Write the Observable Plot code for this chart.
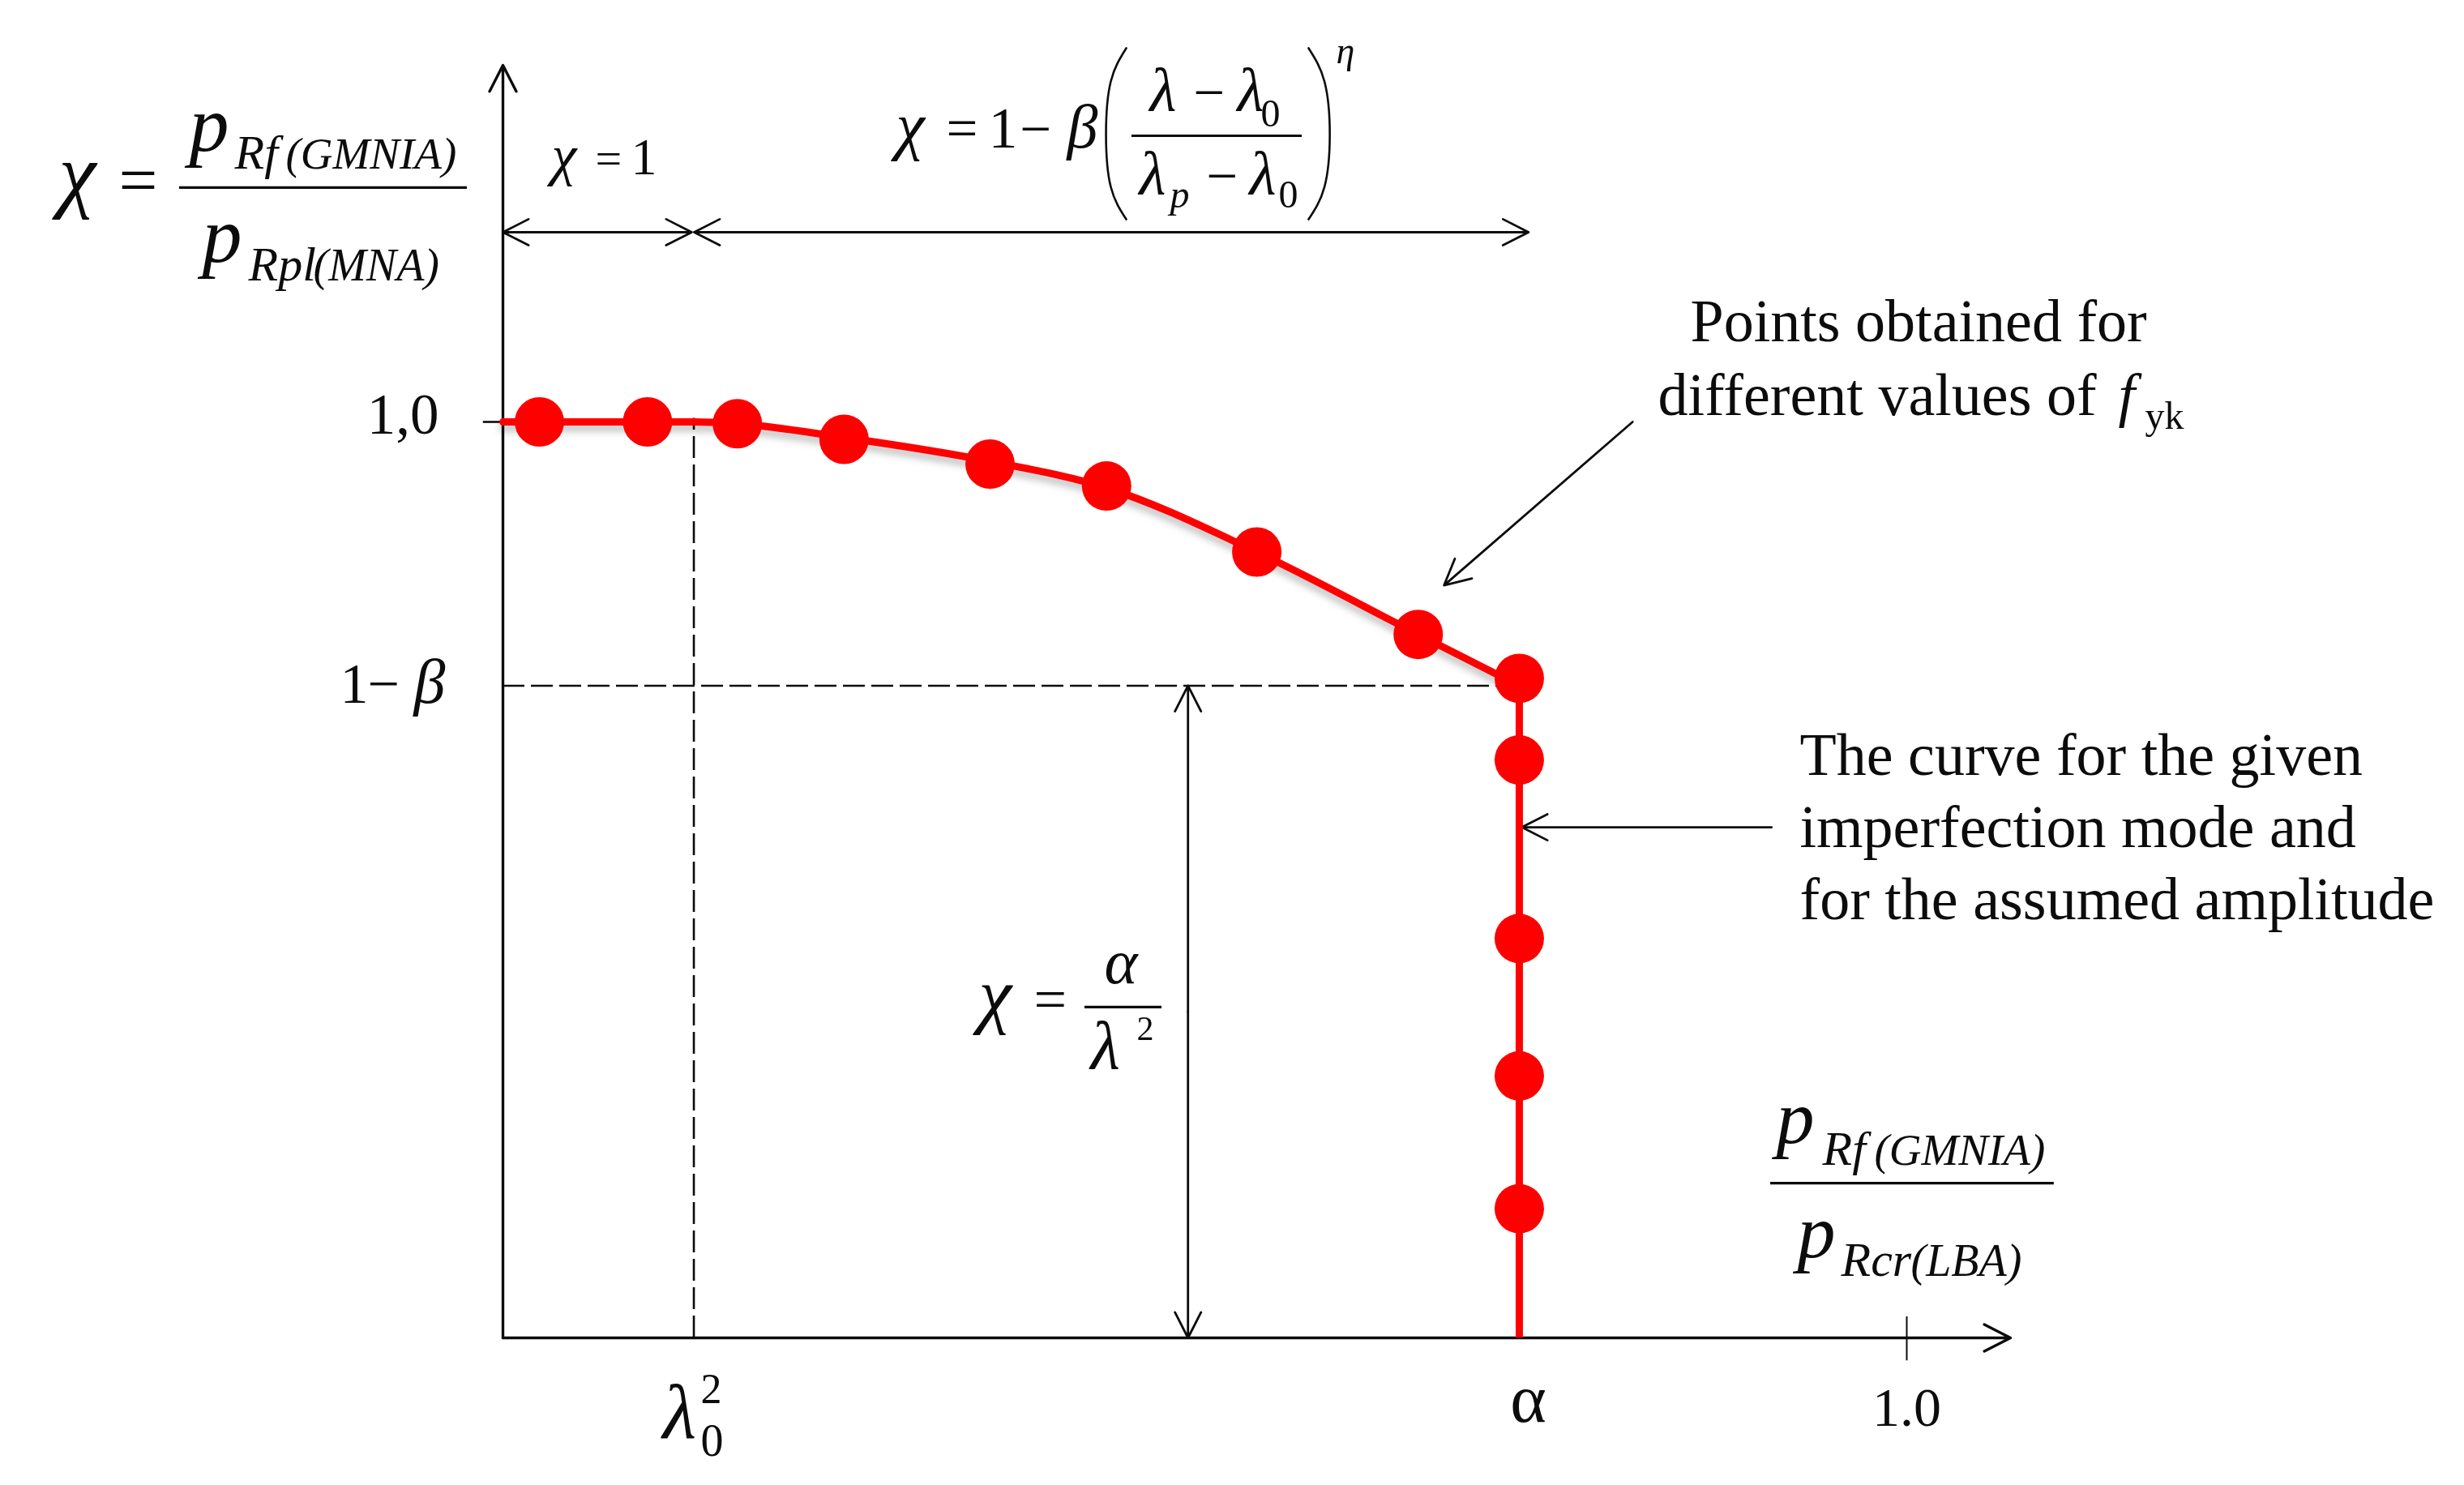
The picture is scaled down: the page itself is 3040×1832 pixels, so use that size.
<!DOCTYPE html>
<html>
<head>
<meta charset="utf-8">
<style>html,body{margin:0;padding:0;background:#fff}svg{display:block}</style>
<script src="https://cdn.jsdelivr.net/npm/d3@7"></script>
<script src="https://cdn.jsdelivr.net/npm/@observablehq/plot@0.6"></script>
</head>
<body>
<div id="chart"></div>
<script>
// ---- values ----
const alpha = 0.724;
const lambda0Sq = 0.136;
const oneMinusBeta = 0.712;
const unit = 1.0;

const pointX = [0.026,0.103,0.167,0.243,0.347,0.430,0.537,0.652,0.724,0.724,0.724,0.724,0.724];
const pointY = [1.000,1.000,0.998,0.981,0.954,0.930,0.858,0.768,0.720,0.631,0.436,0.286,0.141];

// the drawn curve: its plateau and arc, then the vertical branch at alpha
const arcX = [0,0.136,0.167,0.243,0.347,0.430,0.537,0.652,0.724];
const arcY = [1,1.000,0.998,0.983,0.957,0.928,0.858,0.768,0.712];
const branchTop = 0.712;

const axisTip = {x: 1.0739, y: 1.3894};
const chi1Span = {y: 1.2071, x0: 0, x1: 0.1345, x2: 0.1362, x3: 0.7306};
const amplitudeSpan = {x: 0.488};
const pointsLeader = {x1: 0.8047, y1: 1.0000, x2: 0.6704, y2: 0.8216};
const curveLeader = {x1: 0.9037, y1: 0.5575, x2: 0.7258, y2: 0.5575};

const fractionBars = [
  {x1: -0.2304, x2: -0.0254, y: 1.2558},
  {x1: 0.4480, x2: 0.5693, y: 1.3124},
  {x1: 0.4145, x2: 0.4694, y: 0.3611},
  {x1: 0.9030, x2: 1.1050, y: 0.1690}
];
const parenY = [1.408,1.3717,1.314,1.2566,1.2212];
const parenLeftX  = [0.4440,0.4330,0.4296,0.4330,0.4440];
const parenRightX = [0.5739,0.5852,0.5890,0.5852,0.5739];

// ---- look ----
const SERIF = "Liberation Serif";
const INK = "#0c0c0c";
const RED = "#ff0000";

// ---- formula and annotation text, placed in the frame ----
const T = (t, x, y, size, italic = false) =>
  Plot.text([t], {
    frameAnchor: "top-left", dx: x, dy: y, fontSize: size,
    fontStyle: italic ? "italic" : "normal", fontFamily: SERIF,
    textAnchor: "start", lineAnchor: "bottom", fill: INK
  });

const formulaTexts = [
  // chi = p_Rf(GMNIA) / p_Rpl(MNA)
  T("χ", 72, 248, 104, true), T("=", 146, 250, 85),
  T("p", 233, 185, 98, true), T("Rf", 289, 207, 60, true), T("(GMNIA)", 352, 207, 55, true),
  T("p", 249, 322, 98, true), T("Rpl", 306, 345, 60, true), T("(MNA)", 386, 345, 56, true),
  // chi = 1
  T("χ", 680, 214, 70, true), T("=", 734, 214, 58), T("1", 778, 214, 64),
  // chi = 1 - beta (...)^eta
  T("χ", 1105, 181, 80, true), T("=", 1167, 181, 69), T("1", 1219, 181, 72),
  T("−", 1258, 181, 69), T("β", 1316, 181, 76, true), T("η", 1648, 77, 46, true),
  T("λ", 1418, 136, 76, true), T("−", 1472, 136, 69), T("λ", 1526, 136, 76, true), T("0", 1555, 155, 48),
  T("λ", 1405, 239, 76, true), T("p", 1443, 255, 48, true), T("−", 1488, 239, 69),
  T("λ", 1541, 239, 76, true), T("0", 1577, 255, 48),
  // chi = alpha / lambda^2
  T("χ", 1207, 1257, 92, true), T("=", 1275, 1256, 72),
  T("α", 1362, 1212, 78, true), T("λ", 1345, 1317, 84, true), T("2", 1402, 1282, 42),
  // x label
  T("p", 2191, 1409, 94, true), T("Rf", 2248, 1436, 60, true), T("(GMNIA)", 2312, 1436, 55, true),
  T("p", 2217, 1550, 94, true), T("Rcr", 2271, 1573, 60, true), T("(LBA)", 2357, 1573, 56, true),
  // lambda_0^2 under the axis
  T("λ", 817, 1773, 96, true), T("2", 864, 1730, 52), T("0", 864, 1795, 56),
  // 1 - beta
  T("1", 419, 866, 70), T("−", 453, 866, 70), T("β", 510, 866, 78, true),
  // notes
  T("Points obtained for", 2085, 420, 74),
  T("different values of", 2045, 511, 74), T("f", 2613, 511, 74, true), T("yk", 2646, 528, 48),
  T("The curve for the given", 2220, 955, 74),
  T("imperfection mode and", 2220, 1044, 74),
  T("for the assumed amplitude", 2220, 1133, 74)
];

const arrowStyle = {stroke: INK, strokeWidth: 2.8, headAngle: 54, headLength: 19, inset: 0};
const A = (x1, y1, x2, y2, style = arrowStyle) => Plot.arrow([0], {x1: () => x1, y1: () => y1, x2: () => x2, y2: () => y2, ...style});

const svg = Plot.plot({
  width: 3040, height: 1832, margin: 0,
  style: {background: "#fff", maxWidth: "none", filter: "blur(0.6px)"},
  x: {domain: [0, 1], range: [620, 2352], axis: null},
  y: {domain: [0, 1], range: [1650, 520], axis: null},
  marks: [
    // curve shadow
    Plot.line(arcX, {x: arcX, y: arcY, dy: 7, stroke: "#8a8a8a", strokeWidth: 9, strokeOpacity: 0.55, curve: "monotone-x"}),
    // dashed guides
    Plot.ruleX([lambda0Sq], {y1: 0, y2: 1.004, stroke: INK, strokeWidth: 2.6, strokeDasharray: "27,8"}),
    Plot.ruleY([oneMinusBeta], {x1: 0, x2: alpha, stroke: INK, strokeWidth: 2.6, strokeDasharray: "27,8"}),
    // axes
    A(0, 0, axisTip.x, 0, {...arrowStyle, strokeWidth: 3.4, headLength: 16}),
    A(0, 0, 0, axisTip.y, {...arrowStyle, strokeWidth: 3.4, headLength: 16}),
    Plot.ruleX([unit], {y1: -0.025, y2: 0.023, stroke: INK, strokeWidth: 2}),
    Plot.ruleY([1], {x1: -0.014, x2: 0, stroke: INK, strokeWidth: 2.6}),
    // tick labels
    Plot.text(["1,0"], {x: 0, y: 1, dx: -79, dy: 14, textAnchor: "end", lineAnchor: "bottom", fontFamily: SERIF, fontSize: 71, fill: INK}),
    Plot.text(["α"], {x: alpha, y: 0, dx: 11, dy: 103, textAnchor: "middle", lineAnchor: "bottom", fontFamily: SERIF, fontSize: 85, fill: INK}),
    Plot.text(["1.0"], {x: unit, y: 0, dy: 108, textAnchor: "middle", lineAnchor: "bottom", fontFamily: SERIF, fontSize: 68, fill: INK}),
    // dimension arrows
    A((chi1Span.x0 + chi1Span.x1) / 2, chi1Span.y, chi1Span.x0, chi1Span.y),
    A((chi1Span.x0 + chi1Span.x1) / 2, chi1Span.y, chi1Span.x1, chi1Span.y),
    A((chi1Span.x2 + chi1Span.x3) / 2, chi1Span.y, chi1Span.x2, chi1Span.y),
    A((chi1Span.x2 + chi1Span.x3) / 2, chi1Span.y, chi1Span.x3, chi1Span.y),
    A(amplitudeSpan.x, oneMinusBeta / 2, amplitudeSpan.x, oneMinusBeta),
    A(amplitudeSpan.x, oneMinusBeta / 2, amplitudeSpan.x, 0),
    // leaders
    A(pointsLeader.x1, pointsLeader.y1, pointsLeader.x2, pointsLeader.y2),
    A(curveLeader.x1, curveLeader.y1, curveLeader.x2, curveLeader.y2),
    // fraction bars and brackets
    Plot.ruleY(fractionBars, {x1: "x1", x2: "x2", y: "y", stroke: INK, strokeWidth: 3.2}),
    Plot.line(parenY, {x: parenLeftX, y: parenY, curve: "natural", stroke: INK, strokeWidth: 2.6}),
    Plot.line(parenY, {x: parenRightX, y: parenY, curve: "natural", stroke: INK, strokeWidth: 2.6}),
    // curve and points
    Plot.line(arcX, {x: arcX, y: arcY, stroke: RED, strokeWidth: 9, curve: "monotone-x"}),
    Plot.ruleX([alpha], {y1: 0, y2: branchTop, stroke: RED, strokeWidth: 9}),
    Plot.dot(pointX, {x: pointX, y: pointY, r: 30.5, fill: RED, stroke: "none"}),
    ...formulaTexts
  ]
});

d3.select(svg).selectAll('g[stroke="#8a8a8a"]').style("filter", "blur(5px)");
document.getElementById("chart").appendChild(svg);
</script>
</body>
</html>
